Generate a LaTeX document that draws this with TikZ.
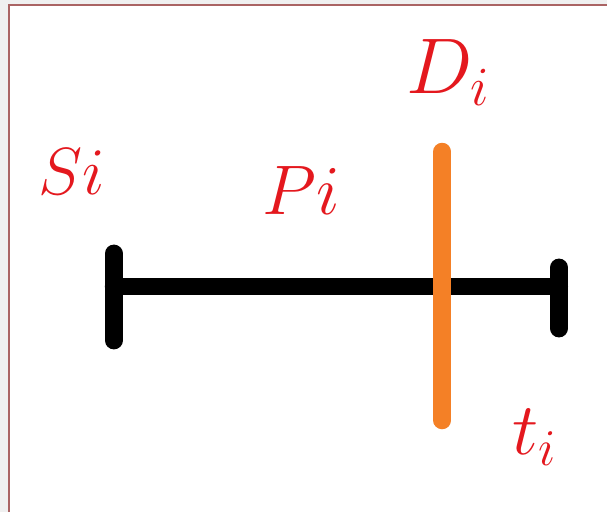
\RequirePackage{fix-cm}
\documentclass[tikz,border=0pt]{standalone}
\definecolor{labelred}{RGB}{228,24,30}
\definecolor{barorange}{RGB}{244,128,38}
\definecolor{framebrown}{RGB}{170,100,100}
\definecolor{outergray}{RGB}{240,240,240}
\begin{document}
\begin{tikzpicture}
[
	bar/.style={line width=18*0.02cm, line cap=round},
	lbl/.style={text=labelred, inner sep=0pt},
	x=0.02cm,
	y=-0.02cm
]

	% frame
	\fill[outergray] (0,0) rectangle (608,513);
	\fill[white] (9,5) rectangle (608,513);
	\draw[framebrown, line width=1.2pt] (9,513) -- (9,5) -- (608,5);
	\useasboundingbox (0,0) rectangle (608,513);

	% end points
	\coordinate (left) at (114,287);
	\coordinate (right) at (560,287);
	\coordinate (lefttop) at (114,254);
	\coordinate (leftbot) at (114,341);
	\coordinate (righttop) at (560,268);
	\coordinate (rightbot) at (560,329);
	\coordinate (dtop) at (443,152);
	\coordinate (dbot) at (443,421);

	% interval
	\draw[bar] (left) -- (right);
	\draw[bar] (lefttop) -- (leftbot);
	\draw[bar] (righttop) -- (rightbot);

	% deadline
	\draw[bar, barorange] (dtop) -- (dbot);

	% labels
	\node[lbl, font=\fontsize{38}{40}\selectfont] (si) at (72,172) {$Si$};
	\node[lbl, font=\fontsize{40}{42}\selectfont] (pi) at (302,191) {$Pi$};
	\node[lbl, font=\fontsize{45}{48}\selectfont] (di) at (449,73) {$D_i$};
	\node[lbl, font=\fontsize{42}{44}\selectfont] (ti) at (535,438) {$t_i$};

\end{tikzpicture}
\end{document}
